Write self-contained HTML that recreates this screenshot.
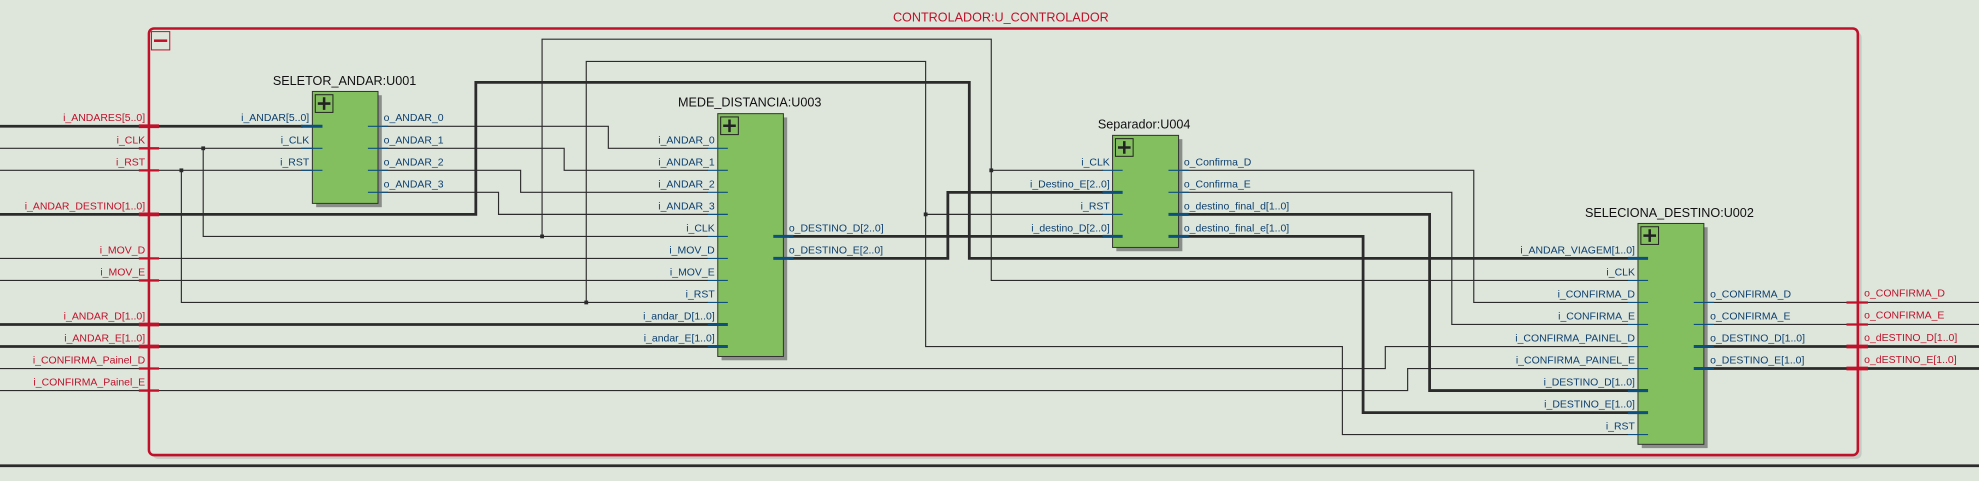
<!DOCTYPE html>
<html><head><meta charset="utf-8"><style>
html,body{margin:0;padding:0;background:#dee6dc;}
svg{display:block;}
text{font-family:"Liberation Sans",sans-serif;}
.l{font-size:8.3px;fill:#0d3f6e;}
.r{font-size:8.3px;fill:#c0102a;}
.t{font-size:10px;fill:#111;}
.w{fill:none;stroke:#2b2b2b;stroke-width:0.9;}
.b{fill:none;stroke:#2b2b2b;stroke-width:2.2;}
.s{stroke:#0d4f7f;stroke-width:0.9;}
.sb{stroke:#0d4f7f;stroke-width:2.4;}
.rs{stroke:#c0102a;stroke-width:1.8;}
.rb{stroke:#c0102a;stroke-width:3;}
</style></head><body>
<svg width="1979" height="481" viewBox="0 0 1568 381" xmlns="http://www.w3.org/2000/svg">
<rect x="0" y="0" width="1568" height="381" fill="#dee6dc"/>
<!-- outer box -->
<rect x="121" y="25.5" width="1354" height="338" rx="4" fill="#c4cbc2"/>
<rect x="118" y="22.5" width="1354" height="338" rx="4" fill="#dee6dc" stroke="#c0102a" stroke-width="2"/>
<rect x="120" y="25" width="14.5" height="14.5" fill="none" stroke="#c0102a" stroke-width="0.8"/>
<line x1="122" y1="32.2" x2="132.5" y2="32.2" stroke="#c0102a" stroke-width="2"/>
<text x="793" y="17" text-anchor="middle" class="r" style="font-size:10px">CONTROLADOR:U_CONTROLADOR</text>
<path class="b" d="M0 369 H1568"/>

<!-- thin wires -->
<path class="w" d="M0 117.45 H247 M161 117.45 V187.25 H561 M429.5 187.25 V31 H785.4 V222.15 H1290 M785.4 134.9 H874"/>
<path class="w" d="M0 134.9 H247 M143.7 134.9 V239.6 H561 M464.5 239.6 V48.6 H733.4 V274.5 H1063.6 V344.3 H1290 M733.4 169.8 H874"/>
<path class="w" d="M300 100 H482 V117.45 H561 M300 117.45 H447 V134.9 H561 M300 134.9 H412.5 V152.35 H561 M300 152.35 H395 V169.8 H561"/>
<path class="w" d="M0 204.7 H561 M0 222.15 H561"/>
<path class="w" d="M0 291.95 H1097.6 V274.5 H1290 M0 309.4 H1115.3 V291.95 H1290"/>
<path class="w" d="M934 134.9 H1167.7 V239.6 H1290 M934 152.35 H1150.3 V257.05 H1290"/>
<path class="w" d="M1350 239.6 H1568 M1350 257.05 H1568"/>
<!-- buses -->
<path class="b" d="M0 100 H240"/>
<path class="b" d="M0 169.8 H377 V65.2 H768 V204.7 H1290"/>
<path class="b" d="M0 257.05 H561 M0 274.5 H561"/>
<path class="b" d="M625 187.25 H874"/>
<path class="b" d="M625 204.7 H751 V152.35 H874"/>
<path class="b" d="M934 169.8 H1132.7 V309.4 H1290"/>
<path class="b" d="M934 187.25 H1080 V326.85 H1290"/>
<path class="b" d="M1350 274.5 H1568 M1350 291.95 H1568"/>
<!-- junctions -->
<g fill="#2b2b2b">
<rect x="159.5" y="115.95" width="3" height="3"/>
<rect x="142.2" y="133.4" width="3" height="3"/>
<rect x="428" y="185.75" width="3" height="3"/>
<rect x="463" y="238.1" width="3" height="3"/>
<rect x="783.9" y="133.4" width="3" height="3"/>
<rect x="731.9" y="168.3" width="3" height="3"/>
</g>

<!-- boundary ports -->
<line class="rb" x1="110" y1="100" x2="126" y2="100"/>
<line class="rs" x1="110" y1="117.45" x2="126" y2="117.45"/>
<line class="rs" x1="110" y1="134.9" x2="126" y2="134.9"/>
<line class="rb" x1="110" y1="169.8" x2="126" y2="169.8"/>
<line class="rs" x1="110" y1="204.7" x2="126" y2="204.7"/>
<line class="rs" x1="110" y1="222.15" x2="126" y2="222.15"/>
<line class="rb" x1="110" y1="257.05" x2="126" y2="257.05"/>
<line class="rb" x1="110" y1="274.5" x2="126" y2="274.5"/>
<line class="rs" x1="110" y1="291.95" x2="126" y2="291.95"/>
<line class="rs" x1="110" y1="309.4" x2="126" y2="309.4"/>
<g class="r" text-anchor="end">
<text x="115" y="96">i_ANDARES[5..0]</text>
<text x="115" y="113.5">i_CLK</text>
<text x="115" y="131">i_RST</text>
<text x="115" y="165.8">i_ANDAR_DESTINO[1..0]</text>
<text x="115" y="200.7">i_MOV_D</text>
<text x="115" y="218.2">i_MOV_E</text>
<text x="115" y="253">i_ANDAR_D[1..0]</text>
<text x="115" y="270.5">i_ANDAR_E[1..0]</text>
<text x="115" y="288">i_CONFIRMA_Painel_D</text>
<text x="115" y="305.4">i_CONFIRMA_Painel_E</text>
</g>
<line class="rs" x1="1463" y1="239.6" x2="1480" y2="239.6"/>
<line class="rs" x1="1463" y1="257.05" x2="1480" y2="257.05"/>
<line class="rb" x1="1463" y1="274.5" x2="1480" y2="274.5"/>
<line class="rb" x1="1463" y1="291.95" x2="1480" y2="291.95"/>
<g class="r">
<text x="1477" y="235">o_CONFIRMA_D</text>
<text x="1477" y="252.5">o_CONFIRMA_E</text>
<text x="1477" y="270">o_dESTINO_D[1..0]</text>
<text x="1477" y="287.5">o_dESTINO_E[1..0]</text>
</g>

<!-- SELETOR -->
<rect x="250.5" y="75.4" width="52" height="88.7" fill="#8a8e88"/>
<rect x="247.5" y="72.4" width="52" height="88.7" fill="#84bf5f" stroke="#333" stroke-width="0.8"/>
<rect x="249.8" y="75" width="14" height="14" fill="none" stroke="#222" stroke-width="0.8"/>
<path d="M256.8 77 V87 M251.8 82 H261.8" stroke="#222" stroke-width="2"/>
<text x="273" y="67.4" text-anchor="middle" class="t">SELETOR_ANDAR:U001</text>
<line class="sb" x1="238.5" y1="100" x2="255.5" y2="100"/>
<line class="s" x1="238.5" y1="117.45" x2="255.5" y2="117.45"/>
<line class="s" x1="238.5" y1="134.9" x2="255.5" y2="134.9"/>
<line class="s" x1="291.5" y1="100" x2="307.5" y2="100"/>
<line class="s" x1="291.5" y1="117.45" x2="307.5" y2="117.45"/>
<line class="s" x1="291.5" y1="134.9" x2="307.5" y2="134.9"/>
<line class="s" x1="291.5" y1="152.35" x2="307.5" y2="152.35"/>
<g class="l" text-anchor="end">
<text x="245" y="96">i_ANDAR[5..0]</text>
<text x="245" y="113.5">i_CLK</text>
<text x="245" y="131">i_RST</text>
</g>
<g class="l">
<text x="304" y="96">o_ANDAR_0</text>
<text x="304" y="113.5">o_ANDAR_1</text>
<text x="304" y="131">o_ANDAR_2</text>
<text x="304" y="148.4">o_ANDAR_3</text>
</g>

<!-- MEDE -->
<rect x="571.7" y="93" width="52" height="192.4" fill="#8a8e88"/>
<rect x="568.7" y="90" width="52" height="192.4" fill="#84bf5f" stroke="#333" stroke-width="0.8"/>
<rect x="571" y="92.6" width="14" height="14" fill="none" stroke="#222" stroke-width="0.8"/>
<path d="M578 94.6 V104.6 M573 99.6 H583" stroke="#222" stroke-width="2"/>
<text x="594" y="84.5" text-anchor="middle" class="t">MEDE_DISTANCIA:U003</text>
<g class="s">
<line x1="560.7" y1="117.45" x2="576.7" y2="117.45"/>
<line x1="560.7" y1="134.9" x2="576.7" y2="134.9"/>
<line x1="560.7" y1="152.35" x2="576.7" y2="152.35"/>
<line x1="560.7" y1="169.8" x2="576.7" y2="169.8"/>
<line x1="560.7" y1="187.25" x2="576.7" y2="187.25"/>
<line x1="560.7" y1="204.7" x2="576.7" y2="204.7"/>
<line x1="560.7" y1="222.15" x2="576.7" y2="222.15"/>
<line x1="560.7" y1="239.6" x2="576.7" y2="239.6"/>
</g>
<line class="sb" x1="560.7" y1="257.05" x2="576.7" y2="257.05"/>
<line class="sb" x1="560.7" y1="274.5" x2="576.7" y2="274.5"/>
<line class="sb" x1="612.7" y1="187.25" x2="628.7" y2="187.25"/>
<line class="sb" x1="612.7" y1="204.7" x2="628.7" y2="204.7"/>
<g class="l" text-anchor="end">
<text x="566.3" y="113.5">i_ANDAR_0</text>
<text x="566.3" y="131">i_ANDAR_1</text>
<text x="566.3" y="148.4">i_ANDAR_2</text>
<text x="566.3" y="165.8">i_ANDAR_3</text>
<text x="566.3" y="183.3">i_CLK</text>
<text x="566.3" y="200.7">i_MOV_D</text>
<text x="566.3" y="218.2">i_MOV_E</text>
<text x="566.3" y="235.6">i_RST</text>
<text x="566.3" y="253">i_andar_D[1..0]</text>
<text x="566.3" y="270.5">i_andar_E[1..0]</text>
</g>
<g class="l">
<text x="625" y="183.3">o_DESTINO_D[2..0]</text>
<text x="625" y="200.7">o_DESTINO_E[2..0]</text>
</g>

<!-- Separador -->
<rect x="884.5" y="110.2" width="52.3" height="88.8" fill="#8a8e88"/>
<rect x="881.5" y="107.2" width="52.3" height="88.8" fill="#84bf5f" stroke="#333" stroke-width="0.8"/>
<rect x="883.8" y="109.8" width="14" height="14" fill="none" stroke="#222" stroke-width="0.8"/>
<path d="M890.8 111.8 V121.8 M885.8 116.8 H895.8" stroke="#222" stroke-width="2"/>
<text x="906.5" y="101.7" text-anchor="middle" class="t">Separador:U004</text>
<line class="s" x1="873.5" y1="134.9" x2="889.5" y2="134.9"/>
<line class="sb" x1="873.5" y1="152.35" x2="889.5" y2="152.35"/>
<line class="s" x1="873.5" y1="169.8" x2="889.5" y2="169.8"/>
<line class="sb" x1="873.5" y1="187.25" x2="889.5" y2="187.25"/>
<line class="s" x1="925.8" y1="134.9" x2="941.8" y2="134.9"/>
<line class="s" x1="925.8" y1="152.35" x2="941.8" y2="152.35"/>
<line class="sb" x1="925.8" y1="169.8" x2="941.8" y2="169.8"/>
<line class="sb" x1="925.8" y1="187.25" x2="941.8" y2="187.25"/>
<g class="l" text-anchor="end">
<text x="879.3" y="131">i_CLK</text>
<text x="879.3" y="148.4">i_Destino_E[2..0]</text>
<text x="879.3" y="165.8">i_RST</text>
<text x="879.3" y="183.3">i_destino_D[2..0]</text>
</g>
<g class="l">
<text x="938" y="131">o_Confirma_D</text>
<text x="938" y="148.4">o_Confirma_E</text>
<text x="938" y="165.8">o_destino_final_d[1..0]</text>
<text x="938" y="183.3">o_destino_final_e[1..0]</text>
</g>

<!-- SELECIONA -->
<rect x="1300.8" y="180" width="52.2" height="175" fill="#8a8e88"/>
<rect x="1297.8" y="177" width="52.2" height="175" fill="#84bf5f" stroke="#333" stroke-width="0.8"/>
<rect x="1300.1" y="179.6" width="14" height="14" fill="none" stroke="#222" stroke-width="0.8"/>
<path d="M1307.1 181.6 V191.6 M1302.1 186.6 H1312.1" stroke="#222" stroke-width="2"/>
<text x="1322.7" y="171.7" text-anchor="middle" class="t">SELECIONA_DESTINO:U002</text>
<line class="sb" x1="1289.8" y1="204.7" x2="1305.8" y2="204.7"/>
<line class="s" x1="1289.8" y1="222.15" x2="1305.8" y2="222.15"/>
<line class="s" x1="1289.8" y1="239.6" x2="1305.8" y2="239.6"/>
<line class="s" x1="1289.8" y1="257.05" x2="1305.8" y2="257.05"/>
<line class="s" x1="1289.8" y1="274.5" x2="1305.8" y2="274.5"/>
<line class="s" x1="1289.8" y1="291.95" x2="1305.8" y2="291.95"/>
<line class="sb" x1="1289.8" y1="309.4" x2="1305.8" y2="309.4"/>
<line class="sb" x1="1289.8" y1="326.85" x2="1305.8" y2="326.85"/>
<line class="s" x1="1289.8" y1="344.3" x2="1305.8" y2="344.3"/>
<line class="s" x1="1342" y1="239.6" x2="1358" y2="239.6"/>
<line class="s" x1="1342" y1="257.05" x2="1358" y2="257.05"/>
<line class="sb" x1="1342" y1="274.5" x2="1358" y2="274.5"/>
<line class="sb" x1="1342" y1="291.95" x2="1358" y2="291.95"/>
<g class="l" text-anchor="end">
<text x="1295.4" y="200.7">i_ANDAR_VIAGEM[1..0]</text>
<text x="1295.4" y="218.2">i_CLK</text>
<text x="1295.4" y="235.6">i_CONFIRMA_D</text>
<text x="1295.4" y="253">i_CONFIRMA_E</text>
<text x="1295.4" y="270.5">i_CONFIRMA_PAINEL_D</text>
<text x="1295.4" y="288">i_CONFIRMA_PAINEL_E</text>
<text x="1295.4" y="305.4">i_DESTINO_D[1..0]</text>
<text x="1295.4" y="322.9">i_DESTINO_E[1..0]</text>
<text x="1295.4" y="340.3">i_RST</text>
</g>
<g class="l">
<text x="1355" y="235.6">o_CONFIRMA_D</text>
<text x="1355" y="253">o_CONFIRMA_E</text>
<text x="1355" y="270.5">o_DESTINO_D[1..0]</text>
<text x="1355" y="288">o_DESTINO_E[1..0]</text>
</g>
</svg>
</body></html>
